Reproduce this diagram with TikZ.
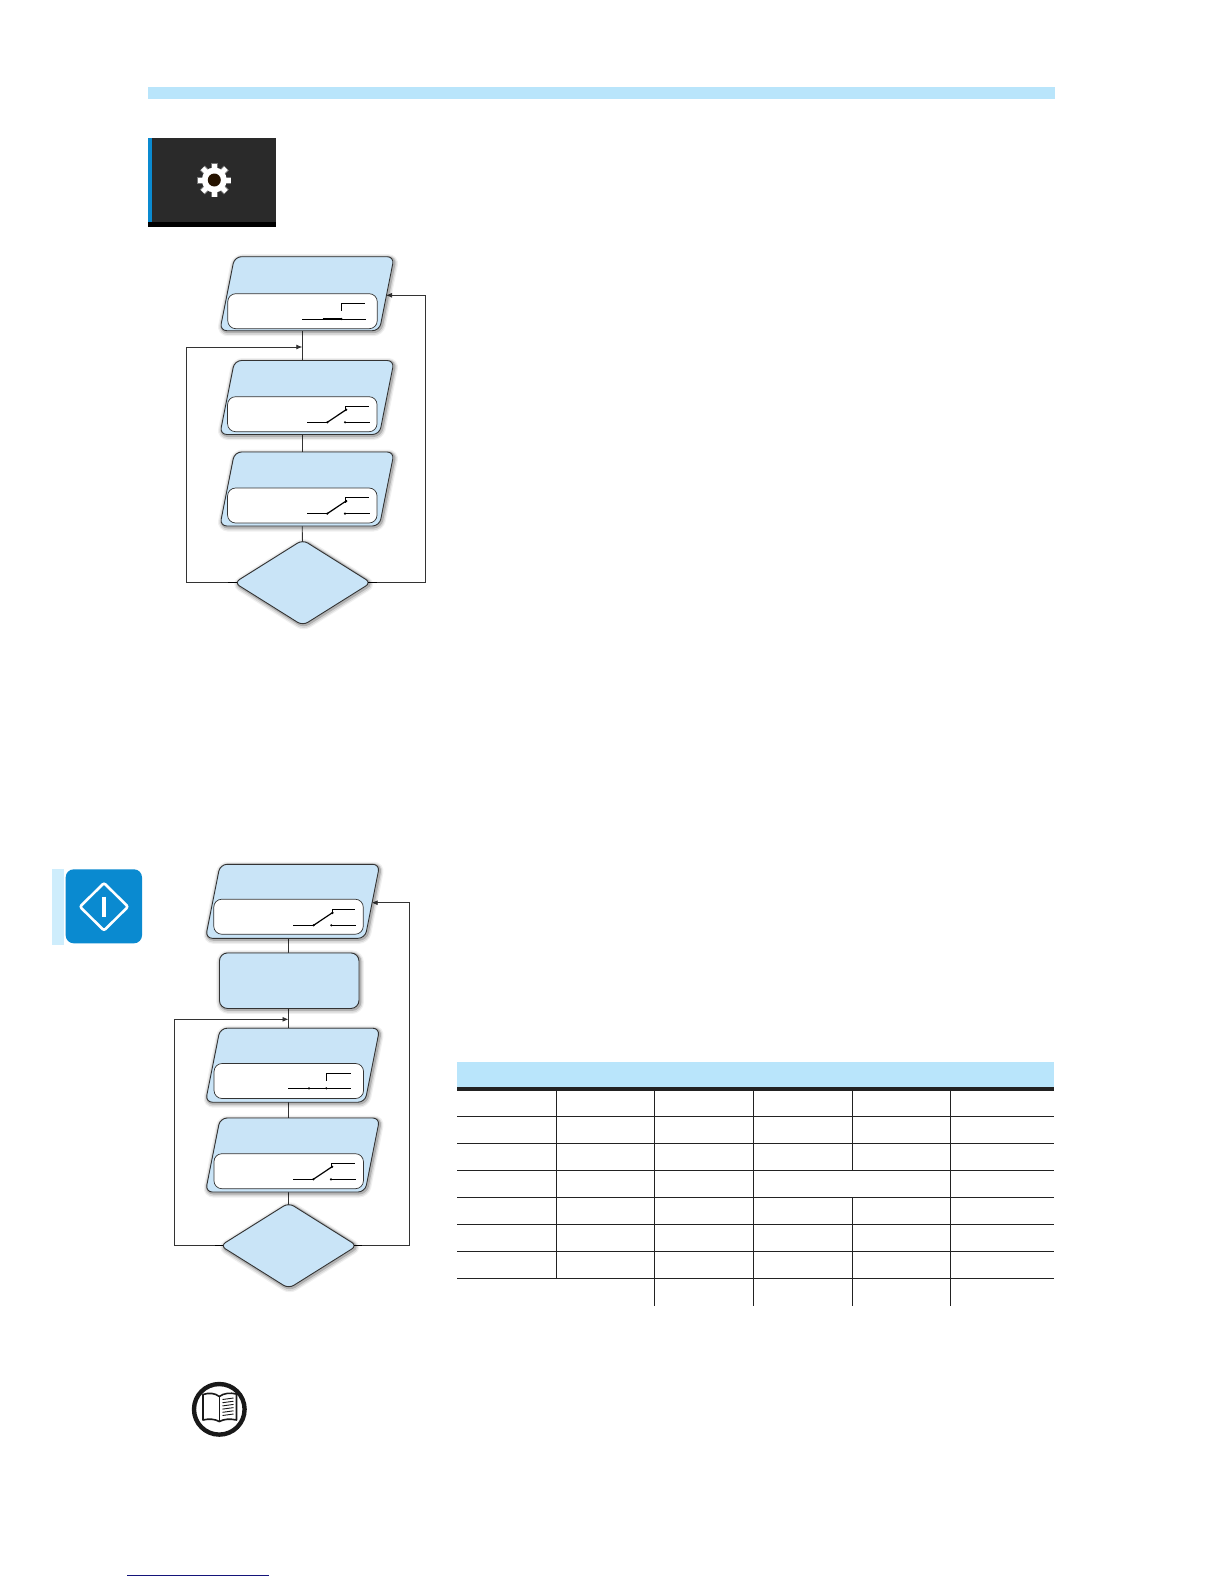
\documentclass[tikz,border=0pt]{standalone}
\usetikzlibrary{shapes.geometric,arrows.meta,backgrounds}
\definecolor{flowfill}{HTML}{C9E4F7}
\definecolor{barfill}{HTML}{B9E5FB}
\definecolor{linedark}{HTML}{333333}
\definecolor{tabblue}{HTML}{0A8AD0}
\definecolor{icondark}{HTML}{2A2A2A}
\definecolor{tableline}{HTML}{222222}
\definecolor{footnavy}{HTML}{14147A}
\tikzset{
  softshadow/.style={
    preaction={draw=black,draw opacity=.06,line width=8pt,transform canvas={shift={(1pt,-1.5pt)}}},
    preaction={draw=black,draw opacity=.10,line width=5.5pt,transform canvas={shift={(1pt,-1.5pt)}}},
    preaction={draw=black,draw opacity=.18,line width=3pt,transform canvas={shift={(1pt,-1pt)}}}},
  parabox/.style={trapezium,trapezium left angle=78.5,trapezium right angle=101.5,
    trapezium stretches=true,text width=60pt,text height=30pt,text depth=0pt,
    minimum width=175pt,minimum height=74pt,inner sep=0pt,outer sep=0pt,
    draw=linedark,line width=.9pt,fill=flowfill,rounded corners=7pt,softshadow},
  innerbox/.style={rectangle,minimum width=149.5pt,minimum height=35pt,inner sep=0pt,
    draw=linedark,line width=.7pt,fill=white,rounded corners=8pt},
  procbox/.style={rectangle,minimum width=139.5pt,minimum height=55.5pt,inner sep=0pt,
    draw=linedark,line width=.9pt,fill=flowfill,rounded corners=8pt,softshadow},
  decide/.style={diamond,aspect=1.6,minimum width=137pt,minimum height=86pt,inner sep=0pt,
    draw=linedark,line width=.9pt,fill=flowfill,rounded corners=6pt,softshadow},
  conn/.style={draw=linedark,line width=.8pt},
  arrowconn/.style={conn,-{Latex[length=6pt,width=5pt]}},
  stub/.style={draw=black,line width=1.4pt},
  swline/.style={draw=black,line width=.7pt},
  swblade/.style={draw=black,line width=1.2pt},
  swdot/.style={fill=black,draw=none},
  tabline/.style={draw=tableline,line width=.9pt},
  pics/swopen/.style={code={
    \draw[swline] (0,0) -- (20.3,0);
    \draw[swblade] (20.3,0) -- (39.7,-13);
    \draw[swline] (38.7,-11) -- (38.7,-16) -- (62,-16);
    \draw[swline] (38,0) -- (63,0);
    \fill[swdot] (20.3,0) circle[radius=1.2pt] (38,0) circle[radius=1.2pt] (39.2,-12.5) circle[radius=1.2pt];
  }}
}
\begin{document}
\begin{tikzpicture}[x=1pt,y=-1pt]
\useasboundingbox (0,0) rectangle (1224,1584);

% page rule, footer rule
\fill[barfill] (148,87.3) rectangle (1055,98.7);
\draw[draw=footnavy,line width=1pt] (127,1575) -- (269,1575);

% settings icon
\fill[icondark] (148,138) rectangle (276,222);
\fill[black] (148,222) rectangle (276,226.7);
\fill[tabblue] (148,138) rectangle (152,222);
\foreach \a in {0,45,...,315}{
  \draw[white,opacity=.35,line width=7pt,shift={(214.3,180)}] (\a:8) -- (\a:17);
  \draw[white,line width=5pt,shift={(214.3,180)}] (\a:8) -- (\a:16.5);
}
\fill[white] (214.3,180) circle[radius=12.5pt];
\fill[black!85!orange] (214.3,180) circle[radius=6.5pt];

% upper flow
\node[parabox] (p1) at (307,293.7) {};
\node[innerbox] (i1) at (302.5,311.2) {};
\node[parabox] (p2) at (307,397.5) {};
\node[innerbox] (i2) at (302.3,414.2) {};
\node[parabox] (p3) at (307,489) {};
\node[innerbox] (i3) at (302.3,505.5) {};
\node[decide] (d1) at (302.7,582.7) {};

\coordinate (axa) at (302.3,347);
\coordinate (axl) at (186.7,347);
\coordinate (axr) at (425,295.3);
\coordinate (axt) at (386,295.3);
\begin{scope}[on background layer]
  \draw[conn] (p1.south -| axa) -- (p2.north -| axa);
  \draw[conn] (p2.south -| axa) -- (p3.north -| axa);
  \draw[conn] (p3.south -| axa) -- (d1.center);
  \draw[arrowconn] (d1.center) -| (axl) -- (axa);
  \draw[arrowconn] (d1.center) -| (axr) -- (axt);
\end{scope}
\draw[stub] (228,582.7) -- (237,582.7);
\draw[stub] (368,582.7) -- (377,582.7);

% switches, upper flow
\draw[swline] (302.3,319) -- (366,319);
\draw[swblade] (322.7,319) -- (341.3,319);
\draw[swline] (341.3,310.7) -- (341.3,303.3) -- (365,303.3);
\fill[swdot] (341.3,319) circle[radius=1.2pt];
\pic at (307,422.3) {swopen};
\pic at (307,513.6) {swopen};

% side tab icon
\fill[barfill!70!white] (52,869) rectangle (66,945);
\fill[white] (64,867.5) rectangle (143.5,945);
\fill[tabblue] (65.7,869.3) [rounded corners=8pt] rectangle (142,943.3);
\draw[white,line width=2.6pt,rounded corners=2pt] (80,906.7) -- (104,883) -- (128,906.7) -- (104,930.5) -- cycle;
\draw[white,line width=4pt] (104,896.7) -- (104,916.7);

% lower flow
\node[parabox] (p4) at (292.6,901.3) {};
\node[innerbox] (i4) at (288.5,916.7) {};
\node[procbox] (r1) at (289.2,980.7) {};
\node[parabox] (p5) at (292.6,1065.2) {};
\node[innerbox] (i5) at (288.8,1081) {};
\node[parabox] (p6) at (292.6,1155) {};
\node[innerbox] (i6) at (288.7,1171.2) {};
\node[decide] (d2) at (288.7,1245.7) {};

\coordinate (bxa) at (288.5,1019.3);
\coordinate (bxl) at (174,1019.3);
\coordinate (bxr) at (409.5,902.7);
\coordinate (bxt) at (371.7,902.7);
\begin{scope}[on background layer]
  \draw[conn] (p4.south -| bxa) -- (r1.north -| bxa);
  \draw[conn] (r1.south -| bxa) -- (p5.north -| bxa);
  \draw[conn] (p5.south -| bxa) -- (p6.north -| bxa);
  \draw[conn] (p6.south -| bxa) -- (d2.center);
  \draw[arrowconn] (d2.center) -| (bxl) -- (bxa);
  \draw[arrowconn] (d2.center) -| (bxr) -- (bxt);
\end{scope}
\draw[stub] (215,1245.7) -- (223,1245.7);
\draw[stub] (354,1245.7) -- (362,1245.7);

% switches, lower flow
\pic at (293.3,925.3) {swopen};
\draw[swline] (288.3,1088.3) -- (351,1088.3);
\draw[swline] (326.3,1080.7) -- (326.3,1073.3) -- (351,1073.3);
\fill[swdot] (309,1088.3) circle[radius=1.2pt] (326.3,1088.3) circle[radius=1.2pt];
\pic at (293,1179.3) {swopen};

% table
\fill[barfill] (457,1062.3) rectangle (1054,1086.7);
\fill[tableline] (457,1086.7) rectangle (1054,1090.7);
\foreach \y in {1116,1143.3,1170.3,1197,1224.3,1251.3,1278.3}
  \draw[tabline] (457,\y) -- (1054,\y);
\draw[tabline] (556.3,1090.7) -- (556.3,1278.3);
\draw[tabline] (654.3,1090.7) -- (654.3,1305.7);
\draw[tabline] (753.3,1090.7) -- (753.3,1305.7);
\draw[tabline] (852.3,1090.7) -- (852.3,1170.3);
\draw[tabline] (852.3,1197) -- (852.3,1305.7);
\draw[tabline] (950.3,1090.7) -- (950.3,1305.7);

% book icon
\draw[black!90,line width=4.4pt] (219.3,1409.3) circle[radius=25.3pt];
\draw[black!90,line width=1.6pt,line join=round]
  (203,1394.5) .. controls (209,1392.5) and (215,1393) .. (219.3,1396.5)
  .. controls (224,1393) and (230,1392.5) .. (236.5,1394) -- (236.5,1420)
  .. controls (230,1418.5) and (224,1419) .. (219.3,1421.5)
  .. controls (215,1419) and (209,1418.5) .. (203,1420) -- cycle;
\draw[black!90,line width=.8pt] (219.3,1396.5) -- (219.3,1421.5);
\foreach \i in {0,1,2,3,4,5}
  \draw[black!90,line width=.9pt] (222.5,1399.5+3.2*\i) -- (233.5,1398+3.2*\i);
\end{tikzpicture}
\end{document}
